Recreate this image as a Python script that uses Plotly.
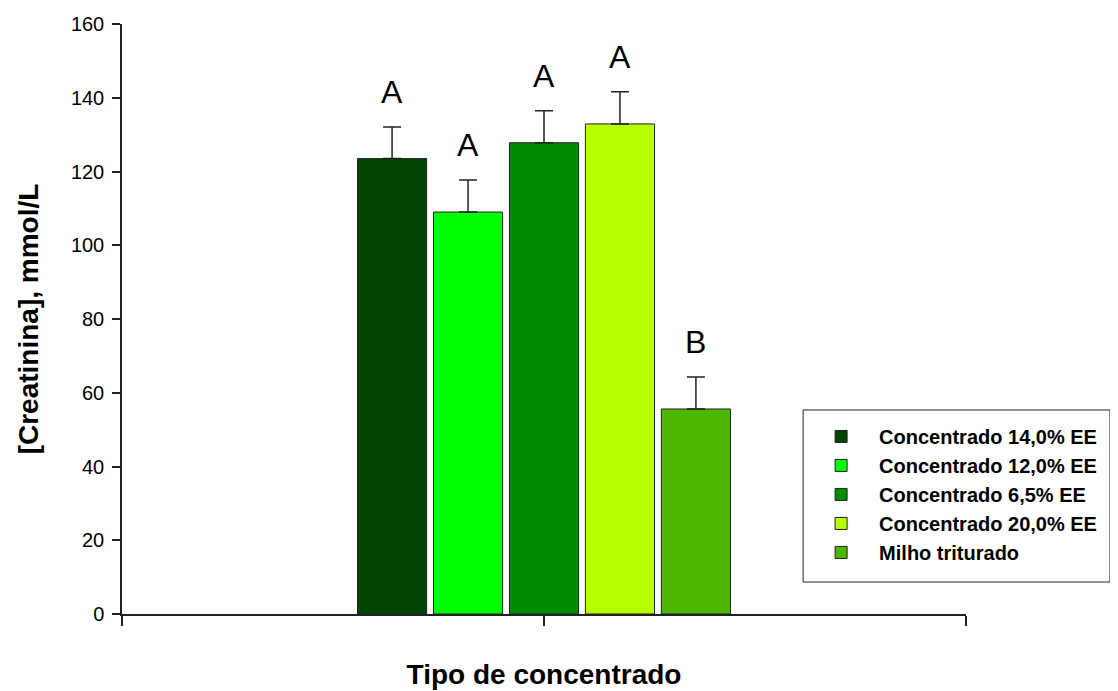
import plotly.graph_objects as go

# ---- data ----
series_names = [
    "Concentrado 14,0% EE",
    "Concentrado 12,0% EE",
    "Concentrado 6,5% EE",
    "Concentrado 20,0% EE",
    "Milho triturado",
]
means = [123.5, 109.0, 127.8, 132.9, 55.6]
errors = [8.6, 8.7, 8.7, 8.7, 8.7]
letters = ["A", "A", "A", "A", "B"]
colors = ["#004400", "#00FF00", "#008C00", "#B8FF00", "#4CB800"]
category = [0]
y_ticks = [0, 20, 40, 60, 80, 100, 120, 140, 160]

FONT = "Liberation Sans, Arial, sans-serif"
bargap = 0.55
bargroupgap = 0.09

fig = go.Figure()
for i, name in enumerate(series_names):
    fig.add_trace(go.Bar(
        x=category,
        y=[means[i]],
        name=name,
        marker=dict(color=colors[i], line=dict(color="#222222", width=1)),
        error_y=dict(type="data", array=[errors[i]], symmetric=False, arrayminus=[0],
                     color="#222222", thickness=1.5, width=9, visible=True),
    ))

# letters above the error bars, positioned from the group layout
n = len(series_names)
group_w = 1 - bargap
slot = group_w / n
for i in range(n):
    cx = category[0] - group_w / 2 + slot * (i + 0.5)
    fig.add_annotation(
        x=cx, y=means[i] + errors[i], text=letters[i], showarrow=False,
        xref="x", yref="y", yanchor="bottom", yshift=15,
        font=dict(family=FONT, size=32, color="black"),
    )

# legend frame (drawn as a shape to get the padding of the original)
fig.add_shape(type="rect", xref="paper", yref="paper",
              x0=0.807, x1=1.1706, y0=0.0542, y1=0.3458,
              line=dict(color="#222222", width=1), fillcolor="white", layer="below")

# page body has an 8px margin, so the figure is sized to fill the window exactly
fig.update_layout(
    width=1110, height=683,
    margin=dict(l=114, r=152, t=16, b=77, autoexpand=False),
    paper_bgcolor="white", plot_bgcolor="white",
    barmode="group", bargap=bargap, bargroupgap=bargroupgap,
    font=dict(family=FONT, color="black"),
    showlegend=True,
    legend=dict(
        x=0.807, y=0.334, xanchor="left", yanchor="top",
        borderwidth=0, bgcolor="rgba(0,0,0,0)",
        font=dict(family=FONT, size=20, color="black", weight="bold"),
        itemwidth=66,
    ),
)

fig.update_xaxes(
    range=[-0.5, 0.5], tickmode="array", tickvals=[-0.5, 0, 0.5],
    showticklabels=False, ticks="outside", ticklen=10, tickwidth=1.5, tickcolor="#222222",
    showline=True, linecolor="#222222", linewidth=1.5, zeroline=False, showgrid=False,
    automargin=False,
    title=dict(text="Tipo de concentrado", standoff=40,
               font=dict(family=FONT, size=28, color="black", weight="bold")),
)
fig.update_yaxes(
    range=[0, 160], tickmode="array", tickvals=y_ticks,
    ticks="outside", ticklen=8, tickwidth=1.5, tickcolor="#222222",
    tickfont=dict(family=FONT, size=20, color="black"), ticklabelstandoff=4,
    showline=True, linecolor="#222222", linewidth=1.5, zeroline=False, showgrid=False,
    automargin=False,
    title=dict(text="[Creatinina], mmol/L", standoff=24,
               font=dict(family=FONT, size=28, color="black", weight="bold")),
)

fig.write_html("out.html")
